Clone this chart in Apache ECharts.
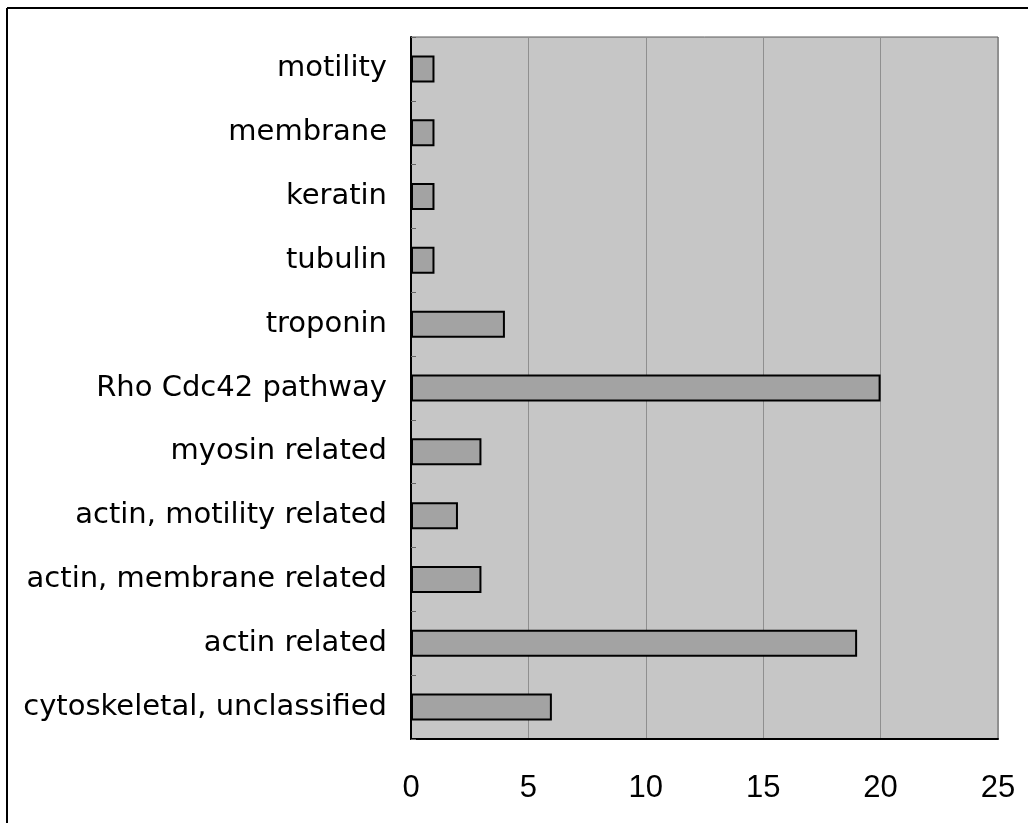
<!DOCTYPE html>
<html>
<head>
<meta charset="utf-8">
<script src="https://cdn.jsdelivr.net/npm/echarts@6/dist/echarts.min.js"></script>
<style>
  html, body { margin: 0; padding: 0; background: #ffffff; }
  #chart { width: 1028px; height: 823px; }
</style>
</head>
<body>
<div id="chart"></div>
<script>
// Categories listed bottom to top on the vertical axis
const categories = [
  'cytoskeletal, unclassified',
  'actin related',
  'actin, membrane related',
  'actin, motility related',
  'myosin related',
  'Rho Cdc42 pathway',
  'troponin',
  'tubulin',
  'keratin',
  'membrane',
  'motility'
];
const counts = [6, 19, 3, 2, 3, 20, 4, 1, 1, 1, 1];
const xTicks = [0, 5, 10, 15, 20, 25];

const chart = echarts.init(document.getElementById('chart'), null, { renderer: 'canvas' });

chart.setOption({
  animation: false,
  backgroundColor: '#ffffff',
  grid: {
    left: 411, top: 37, right: 30, bottom: 84,
    show: true,
    backgroundColor: '#c6c6c6',
    borderColor: '#5a5a5a',
    borderWidth: 1
  },
  xAxis: {
    type: 'value',
    min: xTicks[0],
    max: xTicks[xTicks.length - 1],
    interval: xTicks[1] - xTicks[0],
    axisLine: { show: true, lineStyle: { color: '#000', width: 2 } },
    axisTick: { show: false },
    splitLine: { show: true, lineStyle: { color: '#8f8f8f', width: 1 } },
    axisLabel: {
      margin: 34,
      fontFamily: 'Liberation Sans',
      fontSize: 31,
      color: '#000'
    }
  },
  yAxis: {
    type: 'category',
    data: categories,
    axisLine: { show: true, lineStyle: { color: '#000', width: 2 } },
    axisTick: { show: true, inside: true, length: 5, lineStyle: { color: '#666', width: 1 } },
    axisLabel: {
      margin: 24,
      fontFamily: 'DejaVu Sans',
      fontSize: 29,
      color: '#000'
    }
  },
  series: [{
    type: 'bar',
    data: counts,
    barWidth: 27,
    itemStyle: { color: '#a3a3a3', borderColor: '#000', borderWidth: 2 }
  }],
  graphic: [
    { type: 'line', shape: { x1: 7, y1: 8, x2: 1028, y2: 8 }, style: { stroke: '#000', lineWidth: 2 } },
    { type: 'line', shape: { x1: 7, y1: 8, x2: 7, y2: 823 }, style: { stroke: '#000', lineWidth: 2 } }
  ]
});
</script>
</body>
</html>
